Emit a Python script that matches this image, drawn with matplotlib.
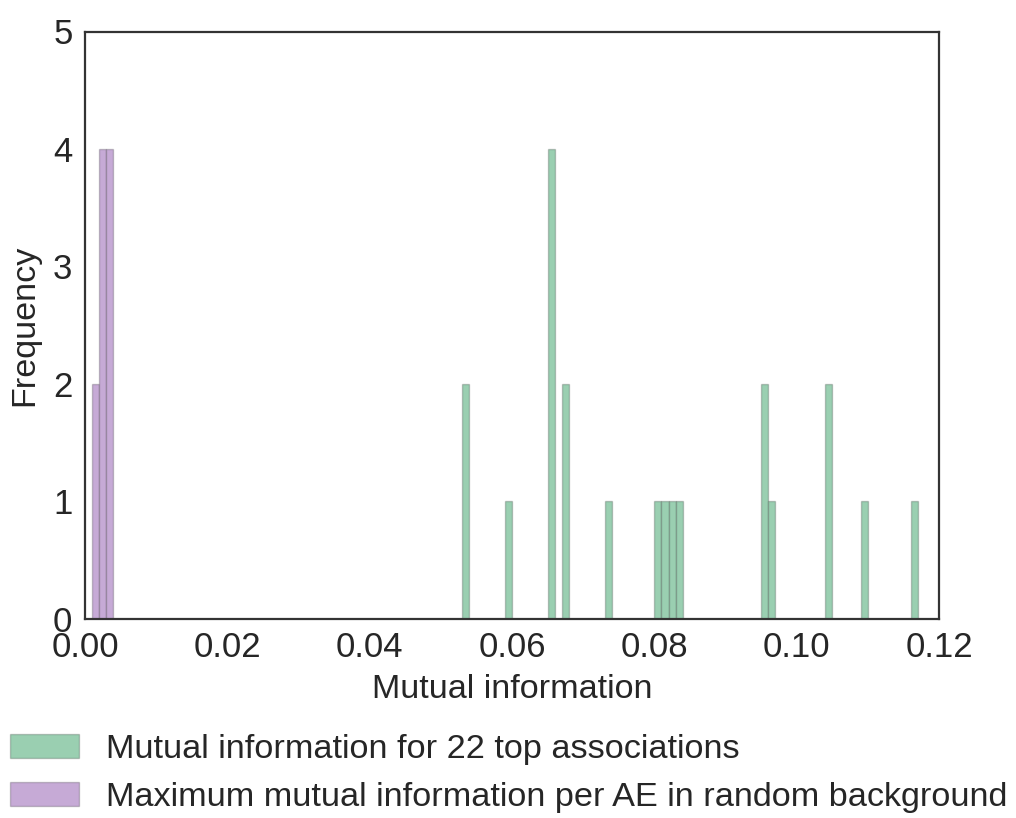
import numpy as np
import matplotlib
matplotlib.use("Agg")
import matplotlib.pyplot as plt

# mutual information values (one entry per count)
top_mi = [0.0535, 0.0535,
          0.0595,
          0.0655, 0.0655, 0.0655, 0.0655,
          0.0675, 0.0675,
          0.0735,
          0.0805, 0.0815, 0.0825, 0.0835,
          0.0955, 0.0955,
          0.0965,
          0.1045, 0.1045,
          0.1095,
          0.1165]
background_mi = [0.0015, 0.0015,
                 0.0025, 0.0025, 0.0025, 0.0025,
                 0.0035, 0.0035, 0.0035, 0.0035]

labels = ["Mutual information for 22 top associations",
          "Maximum mutual information per AE in random background"]
x_ticks = [0.00, 0.02, 0.04, 0.06, 0.08, 0.10, 0.12]
y_ticks = [0, 1, 2, 3, 4, 5]

plt.rcParams['font.family'] = ['Liberation Sans', 'DejaVu Sans']
plt.rcParams['text.color'] = '#262626'
plt.rcParams['axes.labelcolor'] = '#262626'
plt.rcParams['xtick.color'] = '#262626'
plt.rcParams['ytick.color'] = '#262626'

fig = plt.figure(figsize=(10.16, 8.18), dpi=100)
ax = fig.add_axes([85 / 1016, 1 - 618.5 / 818, 854 / 1016, 587 / 818])

bins = np.arange(0, 0.1205, 0.001)
ax.hist(top_mi, bins=bins, color='#9acfb1', edgecolor=(0, 0, 0, 0.2),
        linewidth=1, label=labels[0])
ax.hist(background_mi, bins=bins, color='#c6aad6', edgecolor=(0, 0, 0, 0.2),
        linewidth=1, label=labels[1])

ax.set_xlim(0, 0.12)
ax.set_ylim(0, 5)
ax.set_xticks(x_ticks)
ax.set_xticklabels(["%.2f" % t for t in x_ticks])
ax.set_yticks(y_ticks)
ax.tick_params(length=0, labelsize=25, pad=9)
ax.set_xlabel("Mutual information", fontsize=24.6, labelpad=7)
ax.set_ylabel("Frequency", fontsize=24.6, labelpad=9)
for s in ax.spines.values():
    s.set_linewidth(1.6)
    s.set_color('#333333')

fig.legend(loc='upper left', bbox_to_anchor=(10 / 1016, 1 - 734 / 818),
           frameon=False, fontsize=24.7, borderpad=0, borderaxespad=0,
           handlelength=2.0, handleheight=0.7, handletextpad=0.8,
           labelspacing=0.5)

fig.savefig("out.png", dpi=100)
